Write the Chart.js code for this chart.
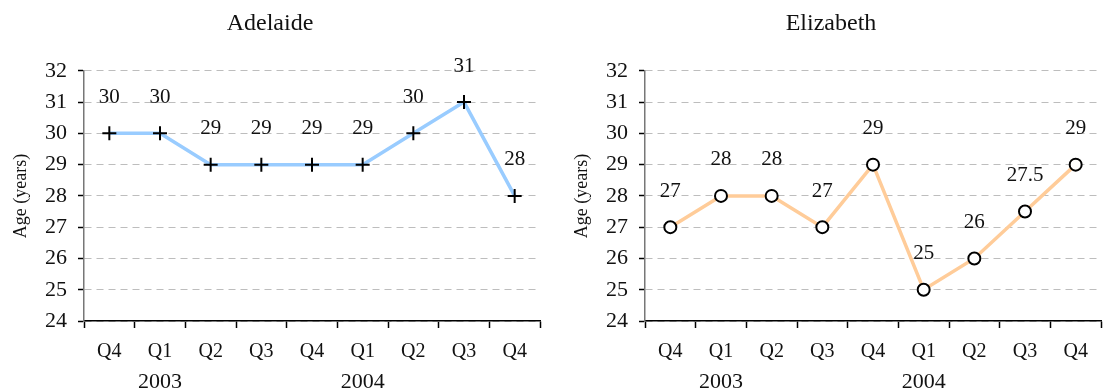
<!DOCTYPE html>
<html lang="en">
<head>
    <meta charset="UTF-8">
    <title>Median age by quarter</title>
    <script src="https://cdn.jsdelivr.net/npm/chart.js"></script>
    <style>
        html, body { margin: 0; padding: 0; background: #fff; }
        body { width: 1103px; height: 392px; position: relative; overflow: hidden; }
        .panel { position: absolute; top: 0; width: 551px; height: 392px; }
        #left-panel { left: 0; }
        #right-panel { left: 561px; }
    </style>
</head>
<body>
    <div class="panel" id="left-panel"><canvas id="adelaide-chart"></canvas></div>
    <div class="panel" id="right-panel"><canvas id="elizabeth-chart"></canvas></div>

    <script>
        // quarters along the x axis, year shown under the first quarter of each year
        const quarters = ['Q4', 'Q1', 'Q2', 'Q3', 'Q4', 'Q1', 'Q2', 'Q3', 'Q4'];
        const years = ['', '2003', '', '', '', '2004', '', '', ''];
        const yTicks = [24, 25, 26, 27, 28, 29, 30, 31, 32];

        const adelaideAges = [30, 30, 29, 29, 29, 29, 30, 31, 28];
        const elizabethAges = [27, 28, 28, 27, 29, 25, 26, 27.5, 29];

        const fontFamily = '"Liberation Serif", "DejaVu Serif", serif';

        // writes each point's value above the marker
        const valueLabels = {
            id: 'valueLabels',
            afterDatasetsDraw(chart) {
                const ctx = chart.ctx;
                ctx.save();
                ctx.font = '21px ' + fontFamily;
                ctx.fillStyle = '#111';
                ctx.textAlign = 'center';
                ctx.textBaseline = 'middle';
                chart.data.datasets.forEach((ds, di) => {
                    chart.getDatasetMeta(di).data.forEach((pt, i) => {
                        ctx.fillText(String(ds.data[i]), pt.x, pt.y - 36);
                    });
                });
                ctx.restore();
            }
        };

        function makeChart(id, title, data, lineColor, pointStyle, radius) {
            const ctx = document.getElementById(id).getContext('2d');
            return new Chart(ctx, {
                type: 'line',
                data: {
                    labels: quarters,
                    datasets: [{
                        data: data,
                        borderColor: lineColor,
                        borderWidth: 3.5,
                        tension: 0,
                        pointStyle: pointStyle,
                        pointRadius: radius,
                        pointHoverRadius: radius,
                        pointBorderColor: '#000',
                        pointBackgroundColor: '#fff',
                        pointBorderWidth: 2
                    }]
                },
                options: {
                    responsive: true,
                    maintainAspectRatio: false,
                    animation: false,
                    layout: { padding: { left: 0, right: 11, top: 0, bottom: 0 } },
                    plugins: {
                        legend: { display: false },
                        tooltip: { enabled: false },
                        title: {
                            display: true,
                            text: title,
                            color: '#111',
                            font: { family: fontFamily, size: 24, weight: 'normal' },
                            padding: { top: 9, bottom: 33 }
                        }
                    },
                    scales: {
                        x: {
                            offset: true,
                            grid: {
                                offset: true,
                                drawOnChartArea: false,
                                drawTicks: true,
                                tickLength: 7,
                                tickColor: '#000',
                                tickWidth: 1.5
                            },
                            border: { color: '#000', width: 1.5 },
                            ticks: {
                                color: '#111',
                                padding: 12,
                                maxRotation: 0,
                                autoSkip: false,
                                font: { family: fontFamily, size: 20, lineHeight: 1.2 }
                            },
                            afterFit(scale) { scale.height = 44; }
                        },
                        years: {
                            type: 'category',
                            position: 'bottom',
                            labels: years,
                            offset: true,
                            grid: { display: false, drawTicks: false },
                            border: { display: false },
                            ticks: {
                                color: '#111',
                                padding: 4,
                                maxRotation: 0,
                                autoSkip: false,
                                font: { family: fontFamily, size: 22, lineHeight: 1.2 }
                            },
                            afterFit(scale) { scale.height = 27; }
                        },
                        y: {
                            min: 24,
                            max: 32,
                            afterBuildTicks(scale) {
                                scale.ticks = yTicks.map(v => ({ value: v }));
                            },
                            grid: {
                                color: '#bdbdbd',
                                lineWidth: 1,
                                drawTicks: true,
                                tickLength: 6,
                                tickColor: '#000',
                                tickWidth: 1.5,
                                tickBorderDash: []
                            },
                            border: { color: '#777', width: 1.5, dash: [7, 5] },
                            ticks: {
                                color: '#111',
                                padding: 11,
                                font: { family: fontFamily, size: 22 }
                            },
                            title: {
                                display: true,
                                text: 'Age (years)',
                                color: '#111',
                                padding: { top: 10, bottom: 0 },
                                font: { family: fontFamily, size: 18 }
                            },
                            afterFit(scale) { scale.width = 84; }
                        }
                    }
                },
                plugins: [valueLabels]
            });
        }

        makeChart('adelaide-chart', 'Adelaide', adelaideAges, '#99ccff', 'cross', 7);
        makeChart('elizabeth-chart', 'Elizabeth', elizabethAges, '#ffcc99', 'circle', 6);
    </script>
</body>
</html>
